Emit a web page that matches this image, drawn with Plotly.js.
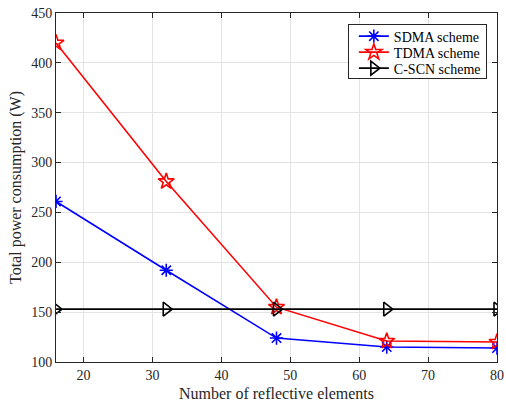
<!DOCTYPE html>
<html><head><meta charset="utf-8">
<script src="https://cdn.plot.ly/plotly-3.0.1.min.js"></script>
<style>html,body{margin:0;padding:0;background:#fff;}#chart{width:506px;height:405px;}</style>
</head><body><div id="chart"></div>
<script>
const elements = [16, 32, 48, 64, 80];
const sdma = [261, 192, 124, 115, 114];
const tdma = [420, 281, 155, 121, 120];
const cscn = [153, 153, 153, 153, 153];
const seriesNames = ['SDMA scheme', 'TDMA scheme', 'C-SCN scheme'];

const font = 'Liberation Serif, Times New Roman, serif';
const traces = [
  {x: elements, y: sdma, name: seriesNames[0], mode: 'lines+markers',
   line: {color: '#0000ff', width: 1.6},
   marker: {symbol: 'asterisk-open', size: 11, color: '#0000ff', line: {color: '#0000ff', width: 1.6}}},
  {x: elements, y: tdma, name: seriesNames[1], mode: 'lines+markers',
   line: {color: '#ff0000', width: 1.6},
   marker: {symbol: 'star-open', size: 12, color: '#ff0000', line: {color: '#ff0000', width: 1.6}}},
  {x: elements, y: cscn, name: seriesNames[2], mode: 'lines+markers',
   line: {color: '#000000', width: 1.6},
   marker: {symbol: 'triangle-right-open', size: 12, color: '#000000', line: {color: '#000000', width: 1.6}}}
];
const axisCommon = {
  showline: true, linecolor: '#262626', linewidth: 1, mirror: 'ticks',
  ticks: 'inside', ticklen: 5, tickcolor: '#262626',
  showgrid: true, gridcolor: '#e3e3e3', gridwidth: 1, zeroline: false,
  ticklabeloverflow: 'allow',
  tickfont: {family: font, size: 14, color: '#262626'}
};
const layout = {
  width: 506, height: 405,
  margin: {l: 56, r: 9, t: 13, b: 43},
  paper_bgcolor: '#fff', plot_bgcolor: '#fff',
  font: {family: font, color: '#262626'},
  xaxis: Object.assign({}, axisCommon, {range: [16, 80], tickvals: [20, 30, 40, 50, 60, 70, 80],
    title: {text: 'Number of reflective elements', font: {family: font, size: 16, color: '#262626'}, standoff: 6}}),
  yaxis: Object.assign({}, axisCommon, {range: [100, 450], tickvals: [100, 150, 200, 250, 300, 350, 400, 450],
    title: {text: 'Total power consumption (W)', font: {family: font, size: 16, color: '#262626'}, standoff: 5}}),
  showlegend: true,
  legend: {x: 0.977, y: 0.968, xanchor: 'right', yanchor: 'top', bgcolor: '#fff',
    bordercolor: '#262626', borderwidth: 1, font: {family: font, size: 14, color: '#000'},
    tracegroupgap: 0, itemwidth: 30}
};
Plotly.newPlot('chart', traces, layout, {staticPlot: true, displayModeBar: false}).then(function (gd) {
  // tighten legend row spacing to match reference
  const items = gd.querySelectorAll('g.legend g.traces');
  const rowH = 16, y0 = 12;
  items.forEach(function (g, i) {
    const m = /translate\(\s*([-\d.]+)[ ,]+([-\d.]+)\s*\)/.exec(g.getAttribute('transform') || '');
    if (!m) return;
    g.setAttribute('transform', 'translate(' + m[1] + ',' + (y0 + i * rowH) + ')');
  });
  const bg = gd.querySelector('g.legend rect.bg');
  if (bg) {
    const w = parseFloat(bg.getAttribute('width'));
    const x = parseFloat(bg.getAttribute('x') || 0);
    bg.setAttribute('x', x - 5);
    bg.setAttribute('width', w + 5);
    bg.setAttribute('height', y0 + (items.length - 1) * rowH + 10);
  }
});
</script></body></html>
